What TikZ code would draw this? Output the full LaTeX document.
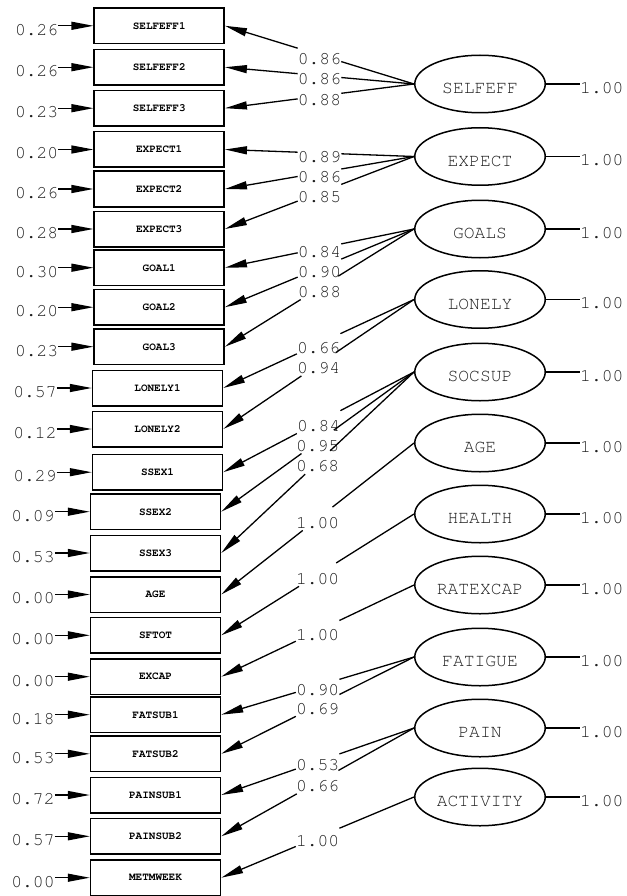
\documentclass[tikz,border=0pt]{standalone}
\usepackage[T1]{fontenc}
\usetikzlibrary{arrows.meta,positioning,shapes.geometric,calc}
\newcommand\lisrelmono{\fontencoding{T1}\fontfamily{pcr}\selectfont}
\definecolor{numgray}{gray}{0.12}

\begin{document}
\begin{tikzpicture}[
    x=1pt, y=-1pt,
    node distance=35pt,
    obsbox/.style={draw, line width=1.5pt, minimum width=130pt, minimum height=35.5pt, inner sep=0pt, font=\lisrelmono\bfseries\fontsize{11}{12}\selectfont},
    latent/.style={draw, ellipse, line width=1.5pt, minimum width=130.5pt, minimum height=57.5pt, inner sep=0pt, text height=19.8pt, text depth=0pt, text=numgray, font=\lisrelmono\fontsize{18}{20}\selectfont},
    val/.style={inner sep=0pt, text height=20.9pt, text depth=2.1pt, text=numgray, font=\lisrelmono\fontsize{18}{20}\selectfont},
    arrow/.style={-{Triangle[length=22pt, width=8pt]}, line width=1.3pt},
    link/.style={line width=1.3pt}
]
\useasboundingbox (0,0) rectangle (626,896);

% observed variables
\node[obsbox] (se1) at (159.2, 25.8) {SELFEFF1};
\node[obsbox] (se2) at (159.2, 67.2) {SELFEFF2};
\node[obsbox] (se3) at (159.2, 108.2) {SELFEFF3};
\node[obsbox] (ex1) at (159.2, 149.5) {EXPECT1};
\node[obsbox] (ex2) at (159.2, 189) {EXPECT2};
\node[obsbox] (ex3) at (159.2, 229) {EXPECT3};
\node[obsbox] (go1) at (159.2, 267.7) {GOAL1};
\node[obsbox] (go2) at (159.2, 307.2) {GOAL2};
\node[obsbox] (go3) at (159.2, 346.7) {GOAL3};
\node[obsbox] (lo1) at (157.5, 388) {LONELY1};
\node[obsbox] (lo2) at (157.5, 429) {LONELY2};
\node[obsbox] (ss1) at (157.5, 472.2) {SSEX1};
\node[obsbox] (ss2) at (155.5, 511.7) {SSEX2};
\node[obsbox] (ss3) at (155.5, 553) {SSEX3};
\node[obsbox] (age) at (155.5, 594.5) {AGE};
\node[obsbox] (sft) at (155.5, 635.3) {SFTOT};
\node[obsbox] (exc) at (155.5, 676.7) {EXCAP};
\node[obsbox] (fs1) at (155.5, 714.7) {FATSUB1};
\node[obsbox] (fs2) at (155.5, 753.8) {FATSUB2};
\node[obsbox] (ps1) at (155.5, 795) {PAINSUB1};
\node[obsbox] (ps2) at (155.5, 836.3) {PAINSUB2};
\node[obsbox] (met) at (155.5, 877.7) {METMWEEK};

% error variances
\node[val, left=of se1] (e-se1) {0.26}; \draw[arrow] (e-se1) -- (se1);
\node[val, left=of se2] (e-se2) {0.26}; \draw[arrow] (e-se2) -- (se2);
\node[val, left=of se3] (e-se3) {0.23}; \draw[arrow] (e-se3) -- (se3);
\node[val, left=of ex1] (e-ex1) {0.20}; \draw[arrow] (e-ex1) -- (ex1);
\node[val, left=of ex2] (e-ex2) {0.26}; \draw[arrow] (e-ex2) -- (ex2);
\node[val, left=of ex3] (e-ex3) {0.28}; \draw[arrow] (e-ex3) -- (ex3);
\node[val, left=of go1] (e-go1) {0.30}; \draw[arrow] (e-go1) -- (go1);
\node[val, left=of go2] (e-go2) {0.20}; \draw[arrow] (e-go2) -- (go2);
\node[val, left=of go3] (e-go3) {0.23}; \draw[arrow] (e-go3) -- (go3);
\node[val, left=of lo1] (e-lo1) {0.57}; \draw[arrow] (e-lo1) -- (lo1);
\node[val, left=of lo2] (e-lo2) {0.12}; \draw[arrow] (e-lo2) -- (lo2);
\node[val, left=of ss1] (e-ss1) {0.29}; \draw[arrow] (e-ss1) -- (ss1);
\node[val, left=of ss2] (e-ss2) {0.09}; \draw[arrow] (e-ss2) -- (ss2);
\node[val, left=of ss3] (e-ss3) {0.53}; \draw[arrow] (e-ss3) -- (ss3);
\node[val, left=of age] (e-age) {0.00}; \draw[arrow] (e-age) -- (age);
\node[val, left=of sft] (e-sft) {0.00}; \draw[arrow] (e-sft) -- (sft);
\node[val, left=of exc] (e-exc) {0.00}; \draw[arrow] (e-exc) -- (exc);
\node[val, left=of fs1] (e-fs1) {0.18}; \draw[arrow] (e-fs1) -- (fs1);
\node[val, left=of fs2] (e-fs2) {0.53}; \draw[arrow] (e-fs2) -- (fs2);
\node[val, left=of ps1] (e-ps1) {0.72}; \draw[arrow] (e-ps1) -- (ps1);
\node[val, left=of ps2] (e-ps2) {0.57}; \draw[arrow] (e-ps2) -- (ps2);
\node[val, left=of met] (e-met) {0.00}; \draw[arrow] (e-met) -- (met);

% latent variables
\node[latent] (selfeff) at (480, 84) {SELFEFF};
\node[latent] (expect) at (480, 156.5) {EXPECT};
\node[latent] (goals) at (480, 229) {GOALS};
\node[latent] (lonely) at (480, 299.5) {LONELY};
\node[latent] (socsup) at (480, 372) {SOCSUP};
\node[latent] (agelat) at (480, 443) {AGE};
\node[latent] (health) at (480, 514) {HEALTH};
\node[latent] (ratexcap) at (480, 585) {RATEXCAP};
\node[latent] (fatigue) at (480, 657) {FATIGUE};
\node[latent] (pain) at (480, 728) {PAIN};
\node[latent] (activity) at (480, 797) {ACTIVITY};

% latent variances
\node[val, right=34pt of selfeff] (v-selfeff) {1.00}; \draw[link] (selfeff) -- (v-selfeff);
\node[val, right=34pt of expect] (v-expect) {1.00}; \draw[link] (expect) -- (v-expect);
\node[val, right=34pt of goals] (v-goals) {1.00}; \draw[link] (goals) -- (v-goals);
\node[val, right=34pt of lonely] (v-lonely) {1.00}; \draw[link] (lonely) -- (v-lonely);
\node[val, right=34pt of socsup] (v-socsup) {1.00}; \draw[link] (socsup) -- (v-socsup);
\node[val, right=34pt of agelat] (v-agelat) {1.00}; \draw[link] (agelat) -- (v-agelat);
\node[val, right=34pt of health] (v-health) {1.00}; \draw[link] (health) -- (v-health);
\node[val, right=34pt of ratexcap] (v-ratexcap) {1.00}; \draw[link] (ratexcap) -- (v-ratexcap);
\node[val, right=34pt of fatigue] (v-fatigue) {1.00}; \draw[link] (fatigue) -- (v-fatigue);
\node[val, right=34pt of pain] (v-pain) {1.00}; \draw[link] (pain) -- (v-pain);
\node[val, right=34pt of activity] (v-activity) {1.00}; \draw[link] (activity) -- (v-activity);

% loadings
\node[val] (l-se1) at ($(selfeff.west)!.5!(se1.east)$) {0.86}; \draw[link] (selfeff.west) -- (l-se1) edge[arrow] (se1.east);
\node[val] (l-se2) at ($(selfeff.west)!.5!(se2.east)$) {0.86}; \draw[link] (selfeff.west) -- (l-se2) edge[arrow] (se2.east);
\node[val] (l-se3) at ($(selfeff.west)!.5!(se3.east)$) {0.88}; \draw[link] (selfeff.west) -- (l-se3) edge[arrow] (se3.east);
\node[val] (l-ex1) at ($(expect.west)!.5!(ex1.east)$) {0.89}; \draw[link] (expect.west) -- (l-ex1) edge[arrow] (ex1.east);
\node[val] (l-ex2) at ($(expect.west)!.5!(ex2.east)$) {0.86}; \draw[link] (expect.west) -- (l-ex2) edge[arrow] (ex2.east);
\node[val] (l-ex3) at ($(expect.west)!.5!(ex3.east)$) {0.85}; \draw[link] (expect.west) -- (l-ex3) edge[arrow] (ex3.east);
\node[val] (l-go1) at ($(goals.west)!.5!(go1.east)$) {0.84}; \draw[link] (goals.west) -- (l-go1) edge[arrow] (go1.east);
\node[val] (l-go2) at ($(goals.west)!.5!(go2.east)$) {0.90}; \draw[link] (goals.west) -- (l-go2) edge[arrow] (go2.east);
\node[val] (l-go3) at ($(goals.west)!.5!(go3.east)$) {0.88}; \draw[link] (goals.west) -- (l-go3) edge[arrow] (go3.east);
\node[val] (l-lo1) at ($(lonely.west)!.5!(lo1.east)$) {0.66}; \draw[link] (lonely.west) -- (l-lo1) edge[arrow] (lo1.east);
\node[val] (l-lo2) at ($(lonely.west)!.5!(lo2.east)$) {0.94}; \draw[link] (lonely.west) -- (l-lo2) edge[arrow] (lo2.east);
\node[val] (l-ss1) at ($(socsup.west)!.5!(ss1.east)$) {0.84}; \draw[link] (socsup.west) -- (l-ss1) edge[arrow] (ss1.east);
\node[val] (l-ss2) at ($(socsup.west)!.5!(ss2.east)$) {0.95}; \draw[link] (socsup.west) -- (l-ss2) edge[arrow] (ss2.east);
\node[val] (l-ss3) at ($(socsup.west)!.5!(ss3.east)$) {0.68}; \draw[link] (socsup.west) -- (l-ss3) edge[arrow] (ss3.east);
\node[val] (l-age) at ($(agelat.west)!.5!(age.east)$) {1.00}; \draw[link] (agelat.west) -- (l-age) edge[arrow] (age.east);
\node[val] (l-sft) at ($(health.west)!.5!(sft.east)$) {1.00}; \draw[link] (health.west) -- (l-sft) edge[arrow] (sft.east);
\node[val] (l-exc) at ($(ratexcap.west)!.5!(exc.east)$) {1.00}; \draw[link] (ratexcap.west) -- (l-exc) edge[arrow] (exc.east);
\node[val] (l-fs1) at ($(fatigue.west)!.5!(fs1.east)$) {0.90}; \draw[link] (fatigue.west) -- (l-fs1) edge[arrow] (fs1.east);
\node[val] (l-fs2) at ($(fatigue.west)!.5!(fs2.east)$) {0.69}; \draw[link] (fatigue.west) -- (l-fs2) edge[arrow] (fs2.east);
\node[val] (l-ps1) at ($(pain.west)!.5!(ps1.east)$) {0.53}; \draw[link] (pain.west) -- (l-ps1) edge[arrow] (ps1.east);
\node[val] (l-ps2) at ($(pain.west)!.5!(ps2.east)$) {0.66}; \draw[link] (pain.west) -- (l-ps2) edge[arrow] (ps2.east);
\node[val] (l-met) at ($(activity.west)!.5!(met.east)$) {1.00}; \draw[link] (activity.west) -- (l-met) edge[arrow] (met.east);

\end{tikzpicture}
\end{document}
